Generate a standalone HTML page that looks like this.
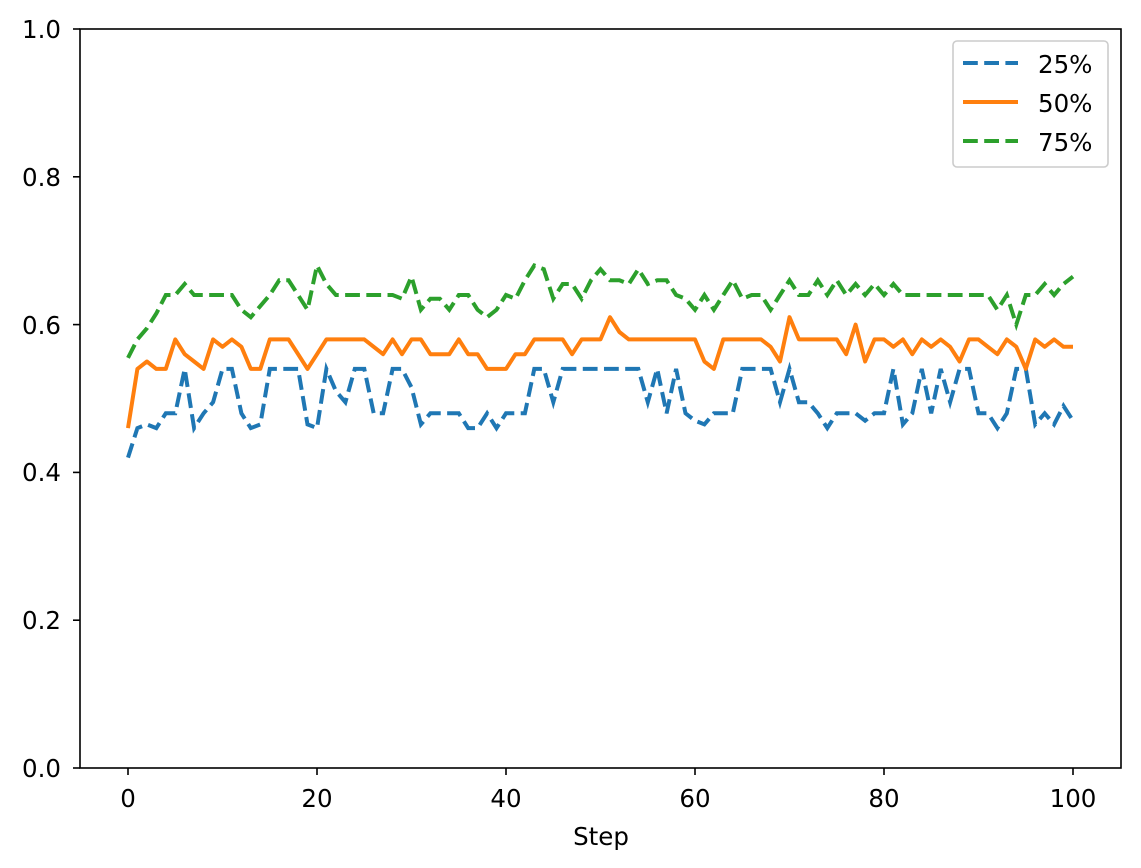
<!DOCTYPE html>
<html><head><meta charset="utf-8"><style>body{margin:0;background:#fff}svg{display:block}text{font-family:"DejaVu Sans","Liberation Sans",sans-serif;font-size:24.5px;fill:#000}</style></head>
<body>
<svg id="s" width="1141" height="868" xmlns="http://www.w3.org/2000/svg">
<rect width="1141" height="868" fill="#fff"/>
<g id="lines"></g>
<rect x="80" y="29" width="1041" height="739" fill="none" stroke="#000" stroke-width="1.6"/>
<g stroke="#000" stroke-width="1.6">
<line x1="128" y1="768" x2="128" y2="775"/><line x1="317" y1="768" x2="317" y2="775"/><line x1="506" y1="768" x2="506" y2="775"/><line x1="695" y1="768" x2="695" y2="775"/><line x1="884" y1="768" x2="884" y2="775"/><line x1="1073" y1="768" x2="1073" y2="775"/>
<line x1="73" y1="768" x2="80" y2="768"/><line x1="73" y1="620.2" x2="80" y2="620.2"/><line x1="73" y1="472.4" x2="80" y2="472.4"/><line x1="73" y1="324.6" x2="80" y2="324.6"/><line x1="73" y1="176.8" x2="80" y2="176.8"/><line x1="73" y1="29" x2="80" y2="29"/>
</g>
<g text-anchor="middle">
<text x="128" y="807">0</text><text x="317" y="807">20</text><text x="506" y="807">40</text><text x="695" y="807">60</text><text x="884" y="807">80</text><text x="1073" y="807">100</text>
<text x="601" y="845">Step</text>
</g>
<g text-anchor="end">
<text x="61" y="777">0.0</text><text x="61" y="629">0.2</text><text x="61" y="481">0.4</text><text x="61" y="334">0.6</text><text x="61" y="186">0.8</text><text x="61" y="38">1.0</text>
</g>
<rect x="953" y="41" width="155" height="126" rx="4" fill="#fff" fill-opacity="0.8" stroke="#ccc" stroke-width="1.6"/>
<line x1="963" y1="63" x2="1018" y2="63" stroke="#1f77b4" stroke-width="4" stroke-dasharray="14.8 6.4"/>
<line x1="963" y1="102" x2="1018" y2="102" stroke="#ff7f0e" stroke-width="4"/>
<line x1="963" y1="141" x2="1018" y2="141" stroke="#2ca02c" stroke-width="4" stroke-dasharray="14.8 6.4"/>
<text x="1038" y="73">25%</text><text x="1038" y="112">50%</text><text x="1038" y="151">75%</text>
</svg>
<script>
var b=[0.42,0.46,0.465,0.46,0.48,0.48,0.54,0.46,0.48,0.495,0.54,0.54,0.48,0.46,0.465,0.54,0.54,0.54,0.54,0.465,0.46,0.54,0.51,0.495,0.54,0.54,0.48,0.48,0.54,0.54,0.515,0.465,0.48,0.48,0.48,0.48,0.46,0.46,0.48,0.46,0.48,0.48,0.48,0.54,0.54,0.495,0.54,0.54,0.54,0.54,0.54,0.54,0.54,0.54,0.54,0.495,0.54,0.48,0.54,0.48,0.47,0.465,0.48,0.48,0.48,0.54,0.54,0.54,0.54,0.495,0.54,0.495,0.495,0.48,0.46,0.48,0.48,0.48,0.47,0.48,0.48,0.54,0.465,0.48,0.54,0.48,0.54,0.495,0.54,0.54,0.48,0.48,0.46,0.48,0.54,0.54,0.465,0.48,0.465,0.49,0.47];
var o=[0.46,0.54,0.55,0.54,0.54,0.58,0.56,0.55,0.54,0.58,0.57,0.58,0.57,0.54,0.54,0.58,0.58,0.58,0.56,0.54,0.56,0.58,0.58,0.58,0.58,0.58,0.57,0.56,0.58,0.56,0.58,0.58,0.56,0.56,0.56,0.58,0.56,0.56,0.54,0.54,0.54,0.56,0.56,0.58,0.58,0.58,0.58,0.56,0.58,0.58,0.58,0.61,0.59,0.58,0.58,0.58,0.58,0.58,0.58,0.58,0.58,0.55,0.54,0.58,0.58,0.58,0.58,0.58,0.57,0.55,0.61,0.58,0.58,0.58,0.58,0.58,0.56,0.60,0.55,0.58,0.58,0.57,0.58,0.56,0.58,0.57,0.58,0.57,0.55,0.58,0.58,0.57,0.56,0.58,0.57,0.54,0.58,0.57,0.58,0.57,0.57];
var g=[0.555,0.58,0.595,0.615,0.64,0.64,0.655,0.64,0.64,0.64,0.64,0.64,0.62,0.61,0.625,0.64,0.66,0.66,0.64,0.62,0.68,0.655,0.64,0.64,0.64,0.64,0.64,0.64,0.64,0.635,0.665,0.62,0.635,0.635,0.62,0.64,0.64,0.62,0.61,0.62,0.64,0.635,0.66,0.68,0.675,0.635,0.655,0.655,0.635,0.66,0.675,0.66,0.66,0.655,0.675,0.655,0.66,0.66,0.64,0.635,0.62,0.64,0.62,0.64,0.66,0.635,0.64,0.64,0.62,0.64,0.66,0.64,0.64,0.66,0.64,0.66,0.64,0.655,0.64,0.655,0.64,0.655,0.64,0.64,0.64,0.64,0.64,0.64,0.64,0.64,0.64,0.64,0.62,0.64,0.6,0.64,0.64,0.655,0.64,0.655,0.665];
function pts(a){return a.map(function(v,i){return (128+9.45*i).toFixed(1)+','+(768-739*v).toFixed(1)}).join(' ')}
var L=document.getElementById('lines');
L.innerHTML='<polyline points="'+pts(b)+'" fill="none" stroke="#1f77b4" stroke-width="4" stroke-dasharray="14.8 6.4"/>'+
'<polyline points="'+pts(o)+'" fill="none" stroke="#ff7f0e" stroke-width="4" stroke-linejoin="round"/>'+
'<polyline points="'+pts(g)+'" fill="none" stroke="#2ca02c" stroke-width="4" stroke-dasharray="14.8 6.4"/>';
</script>
</body></html>
